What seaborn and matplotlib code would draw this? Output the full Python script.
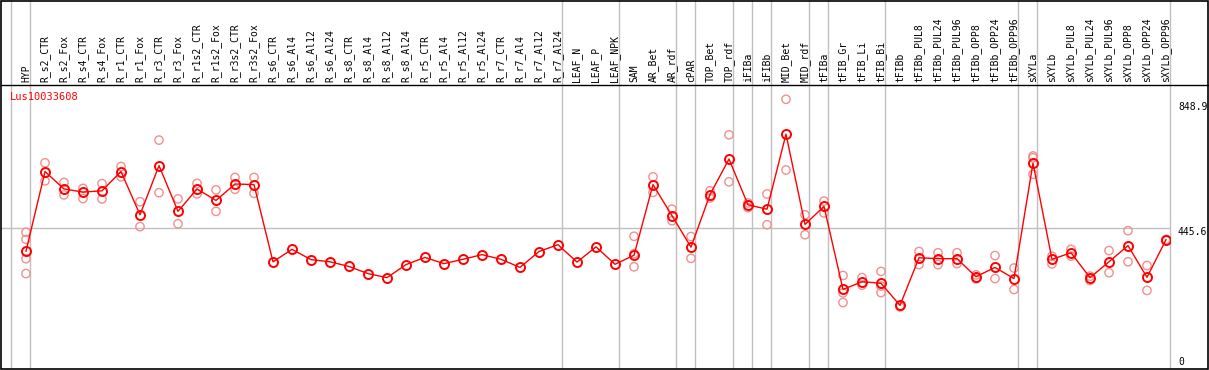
import numpy as np
import pandas as pd
import matplotlib
matplotlib.use("Agg")
import matplotlib.pyplot as plt
import matplotlib.transforms as mtrans
from matplotlib.lines import Line2D
from matplotlib.patches import Rectangle
import seaborn as sns

# ---------------- data ----------------
gene = "Lus10033608"
samples = [
    "HYP", "R_s2_CTR", "R_s2_Fox", "R_s4_CTR", "R_s4_Fox", "R_r1_CTR", "R_r1_Fox",
    "R_r3_CTR", "R_r3_Fox", "R_r1s2_CTR", "R_r1s2_Fox", "R_r3s2_CTR", "R_r3s2_Fox",
    "R_s6_CTR", "R_s6_Al4", "R_s6_Al12", "R_s6_Al24", "R_s8_CTR", "R_s8_Al4",
    "R_s8_Al12", "R_s8_Al24", "R_r5_CTR", "R_r5_Al4", "R_r5_Al12", "R_r5_Al24",
    "R_r7_CTR", "R_r7_Al4", "R_r7_Al12", "R_r7_Al24", "LEAF_N", "LEAF_P", "LEAF_NPK",
    "SAM", "AR_Bet", "AR_rdf", "cPAR", "TOP_Bet", "TOP_rdf", "iFIBa", "iFIBb",
    "MID_Bet", "MID_rdf", "tFIBa", "tFIB_Gr", "tFIB_Li", "tFIB_Bi", "tFIBb",
    "tFIBb_PUL8", "tFIBb_PUL24", "tFIBb_PUL96", "tFIBb_OPP8", "tFIBb_OPP24",
    "tFIBb_OPP96", "sXYLa", "sXYLb", "sXYLb_PUL8", "sXYLb_PUL24", "sXYLb_PUL96",
    "sXYLb_OPP8", "sXYLb_OPP24", "sXYLb_OPP96",
]
mean_vals = [
    372, 628, 572, 562, 566, 628, 489, 647, 500, 572, 535, 588, 586,
    338, 378, 345, 338, 323, 300, 287, 329, 352, 332, 346, 361,
    346, 320, 371, 393, 337, 386, 330,
    359, 586, 486, 385, 554, 668, 521, 507, 748, 458, 516,
    249, 274, 269, 198,
    351, 348, 348, 290, 320, 284,
    655, 346, 367, 287, 338, 390, 288, 409,
]
n = np.nan
rep_a = [
    433, 656, 593, 574, 589, 644, 531, 729, 540, 590, 569, 609, 609,
    n, n, n, n, n, n, n, n, n, n, n, n, n, n, n, n, n, n, n,
    420, 611, 507, 419, 566, 746, 527, 556, 860, 489, 533,
    294, 287, 307, 193,
    371, 367, 367, 296, 358, 318,
    678, 356, 378, 292, 374, 438, 326, 410,
]
rep_b = [
    410, 598, 553, 541, 540, 611, 451, 560, 460, 556, 500, 571, 558,
    n, n, n, n, n, n, n, n, n, n, n, n, n, n, n, n, n, n, n,
    364, 561, 470, 349, 543, 595, 512, 457, 633, 425, 495,
    238, 263, 260, 196,
    329, 329, 332, 283, 284, 249,
    672, 331, 356, 278, 303, 338, 246, 407,
]
rep_c = [
    348, n, n, n, n, n, n, n, n, n, n, n, n,
    n, n, n, n, n, n, n, n, n, n, n, n, n, n, n, n, n, n, n,
    322, n, n, n, n, n, n, n, n, n, n,
    207, n, 239, n,
    n, n, n, n, n, n,
    619, n, n, n, n, n, n, n,
]
rep_d = [
    300, n, n, n, n, n, n, n, n, n, n, n, n,
    n, n, n, n, n, n, n, n, n, n, n, n, n, n, n, n, n, n, n,
    n, n, n, n, n, n, n, n, n, n, n,
    n, n, n, n,
    n, n, n, n, n, n,
    n, n, n, n, n, n, n, n,
]
group_ends = [-1, 0, 28, 31, 34, 35, 37, 38, 39, 41, 42, 45, 52, 53, 60]
ref_ticks = [848.9, 445.6, 0]

# ---------------- layout ----------------
W, H, DPI = 1209, 370, 100
fig = plt.figure(figsize=(W / DPI, H / DPI), dpi=DPI)
fig.patch.set_facecolor("white")

px_left, px_right, px_top, px_bot = 1, 1170, 85, 368
ax = fig.add_axes([px_left / W, (H - px_bot) / H,
                   (px_right - px_left) / W, (px_bot - px_top) / H])
ax.set_facecolor("white")

mono = "DejaVu Sans Mono"
FS = 7

x = np.arange(len(samples))
mean_df = pd.DataFrame({"x": x, "value": mean_vals})
reps = []
for arr in (rep_a, rep_b, rep_c, rep_d):
    reps.append(pd.DataFrame({"x": x, "value": arr}))
rep_df = pd.concat(reps).dropna()

# grid lines
grey = "#c0c0c0"
ax.axhline(445.6, color=grey, lw=1.0, zorder=0)
for g in group_ends:
    ax.axvline(g + 0.21, ymin=0, ymax=1 + px_top / (px_bot - px_top),
               color=grey, lw=1.0, clip_on=False, zorder=0)

sns.scatterplot(data=rep_df, x="x", y="value", ax=ax, marker="o",
                s=36, facecolors="none", edgecolor="#f09090",
                linewidth=1.0, zorder=2, legend=False)
sns.lineplot(data=mean_df, x="x", y="value", ax=ax, color="#ff0000",
             lw=1.0, marker="o", markersize=6.5, markerfacecolor="none",
             markeredgecolor="#ff0000", markeredgewidth=1.4, zorder=3)

ax.set_xlim((px_left - 26) / 19, (px_right - 26) / 19)
scale = (367 - 228.3) / 445.6
ax.set_ylim(-1 / scale, (px_bot - px_top - 1) / scale)

ax.set_xlabel("")
ax.set_ylabel("")
ax.set_yticks([])
ax.xaxis.tick_top()
ax.set_xticks(x)
ax.set_xticklabels(samples, rotation=90, fontsize=FS, family=mono,
                   va="bottom", ha="center")
ax.tick_params(axis="x", length=0, pad=2)
for s in ax.spines.values():
    s.set_visible(False)

# gene label
ax.text((10 - px_left) / (px_right - px_left), 1 - 12 / (px_bot - px_top),
        gene, color="#ff0000", fontsize=FS + 0.5, family=mono,
        transform=ax.transAxes, ha="left", va="center")

# reference value labels on the right
xfrac = (1178 - px_left) / (px_right - px_left)
trans = mtrans.blended_transform_factory(ax.transAxes, ax.transData)
for v in ref_ticks:
    if v == 0:
        t = mtrans.offset_copy(trans, fig=fig, x=0, y=5, units="dots")
    else:
        t = mtrans.offset_copy(trans, fig=fig, x=0, y=-4, units="dots")
    ax.text(xfrac, v, f"{v:g}", transform=t, fontsize=FS, family=mono,
            ha="left", va="center", clip_on=False)

# outer frame and header separator
fig.add_artist(Rectangle((1 / W, (H - 368.5) / H), 1207 / W, 368 / H,
                         transform=fig.transFigure, fill=False,
                         edgecolor="black", lw=1.2))
fig.add_artist(Line2D([1 / W, 1208 / W], [(H - px_top) / H] * 2,
                      transform=fig.transFigure, color="black", lw=1.0))

fig.savefig("out.png", dpi=DPI, facecolor="white")
